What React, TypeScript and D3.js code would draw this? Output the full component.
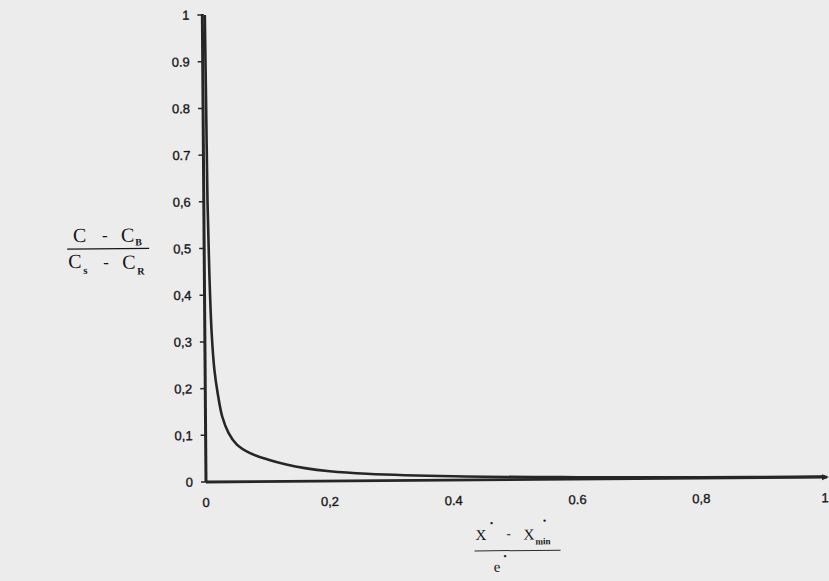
import React from "react";
import * as d3 from "d3";

// ---- data ----
const curveX = [0.004, 0.005, 0.006, 0.008, 0.011, 0.015, 0.02, 0.027, 0.037, 0.05, 0.07, 0.1, 0.13, 0.16, 0.2, 0.26, 0.4, 0.6, 0.8, 1.0];
const curveY = [1.0, 0.8, 0.6, 0.45, 0.32, 0.24, 0.19, 0.14, 0.105, 0.08, 0.062, 0.047, 0.036, 0.028, 0.021, 0.015, 0.008, 0.004, 0.002, 0.001];

const yTickValues = [0, 0.1, 0.2, 0.3, 0.4, 0.5, 0.6, 0.7, 0.8, 0.9, 1];
const yTickLabels = ["0", "0,1", "0,2", "0,3", "0,4", "0,5", "0,6", "0.7", "0.8", "0.9", "1"];
const xTickValues = [0, 0.2, 0.4, 0.6, 0.8, 1];
const xTickLabels = ["0", "0,2", "0.4", "0.6", "0,8", "1"];

const W = 829;
const H = 581;

export default function App() {
  const x = d3.scaleLinear().domain([0, 1]).range([206, 825]);
  const y = d3.scaleLinear().domain([0, 1]).range([482, 15]);
  const pts: [number, number][] = curveX.map((v, i) => [v, curveY[i]]);
  const line = d3
    .line<[number, number]>()
    .x((d) => x(d[0]))
    .y((d) => y(d[1]))
    .curve(d3.curveCatmullRom.alpha(0.5));

  const ink = "#262626";
  const txt = "#161616";
  const sans = "'Liberation Sans', Arial, sans-serif";
  const serif = "'Liberation Serif', 'Times New Roman', serif";

  return (
    <div style={{ position: "fixed", left: 0, top: 0, width: W, height: H }}>
      <svg width={W} height={H} viewBox={`0 0 ${W} ${H}`} style={{ display: "block" }}>
        <rect x={0} y={0} width={W} height={H} fill="#ececec" />
        <g transform={`rotate(-0.45, ${x(0)}, ${y(0)})`}>
          {/* curve */}
          <path d={line(pts) || ""} fill="none" stroke={ink} strokeWidth={2.6} strokeLinejoin="round" />
          {/* y axis */}
          <line x1={x(0)} y1={y(0)} x2={x(0)} y2={y(1) - 1} stroke={ink} strokeWidth={3} />
          {yTickValues.map((v, i) => (
            <g key={"yt" + i}>
              <line x1={x(0) - 5} x2={x(0)} y1={y(v)} y2={y(v)} stroke={ink} strokeWidth={1.5} />
              <text
                x={x(0) - 13}
                y={y(v)}
                dy="0.36em"
                textAnchor="end"
                fontFamily={sans}
                fontSize={13}
                fill={txt}
                stroke={txt}
                strokeWidth={0.35}
              >
                {yTickLabels[i]}
              </text>
            </g>
          ))}
          {/* x axis */}
          <line x1={x(0)} y1={y(0)} x2={x(1) + 2} y2={y(0)} stroke={ink} strokeWidth={2.8} />
          <path
            d={`M${x(1) + 4},${y(0)} L${x(1) - 3},${y(0) - 3} L${x(1) - 3},${y(0) + 3} Z`}
            fill={ink}
          />
          {xTickValues.map((v, i) => (
            <text
              key={"xt" + i}
              x={x(v)}
              y={y(0) + 25}
              textAnchor="middle"
              fontFamily={sans}
              fontSize={13}
              fill={txt}
              stroke={txt}
              strokeWidth={0.35}
            >
              {xTickLabels[i]}
            </text>
          ))}

          {/* y axis title: (C - C_B) / (C_s - C_B) */}
          <g fontFamily={serif} fill={txt}>
            <text x={75} y={241} fontSize={20}>
              C
            </text>
            <text x={104} y={240} fontSize={17}>
              -
            </text>
            <text x={123} y={241} fontSize={20}>
              C
            </text>
            <text x={137} y={245} fontSize={10} fontWeight="bold">
              B
            </text>
            <line x1={69} x2={151} y1={248} y2={248} stroke={txt} strokeWidth={1.2} />
            <text x={70} y={267} fontSize={20}>
              C
            </text>
            <text x={85} y={273} fontSize={11} fontWeight="bold">
              s
            </text>
            <text x={105} y={267} fontSize={17}>
              -
            </text>
            <text x={124} y={268} fontSize={20}>
              C
            </text>
            <text x={139} y={274} fontSize={10} fontWeight="bold">
              R
            </text>
          </g>

          {/* x axis title: (x* - x*_min) / e* */}
          <g fontFamily={serif} fill={txt}>
            <text x={475} y={542} fontSize={15}>
              X
            </text>
            <text x={489} y={530} fontSize={14} fontWeight="bold">
              ·
            </text>
            <text x={506} y={540} fontSize={13}>
              -
            </text>
            <text x={523} y={542} fontSize={15}>
              X
            </text>
            <text x={542} y={528} fontSize={14} fontWeight="bold">
              ·
            </text>
            <text x={535} y={547} fontSize={9} fontWeight="bold">
              min
            </text>
            <line x1={474} x2={560} y1={553} y2={553} stroke="#2a2a2a" strokeWidth={1} />
            <text x={493} y={574} fontSize={15}>
              e
            </text>
            <text x={502} y={563} fontSize={14} fontWeight="bold">
              ·
            </text>
          </g>
        </g>
      </svg>
    </div>
  );
}
